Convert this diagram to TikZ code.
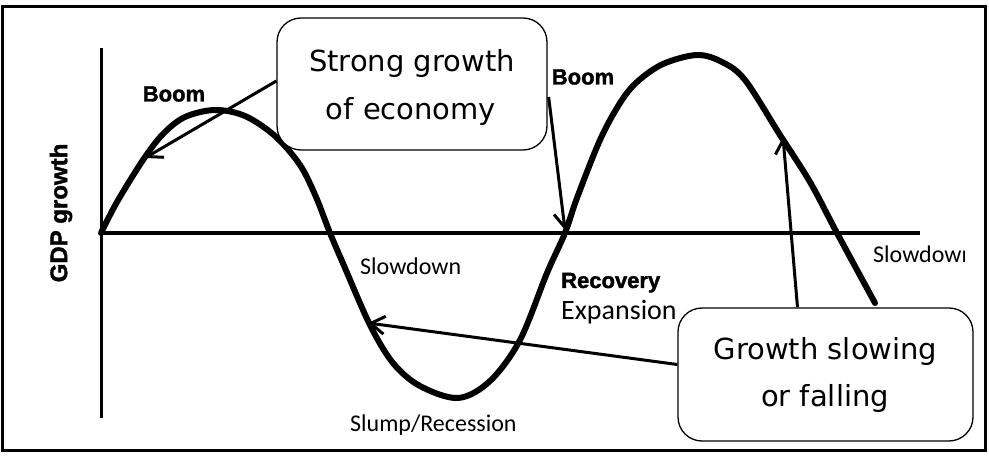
\documentclass[tikz,border=0pt]{standalone}
\usepackage{fontspec}
\setmainfont{Carlito}
\newfontfamily\arialfont[FakeBold=1.6]{Liberation Sans Bold}
\newfontfamily\comicfont{DejaVu Sans}
\usetikzlibrary{arrows.meta,calc}
\begin{document}
\begin{tikzpicture}[x=1pt,y=-1pt,
  outerframe/.style={line width=3pt},
  axisline/.style={line width=3.5pt},
  wave/.style={line width=6pt, line join=round, line cap=round},
  pointer/.style={line width=3pt, -{Straight Barb[length=14pt,width=18pt]}},
  callout/.style={draw, line width=1.3pt, rounded corners=24pt, fill=white, inner sep=0pt},
  calltext/.style={inner sep=0pt, anchor=base, font=\comicfont\fontsize{29}{35}\selectfont},
  boldlbl/.style={inner sep=0pt, font=\arialfont\fontsize{22}{26}\selectfont},
  plainlbl/.style={inner sep=0pt, anchor=base west, font=\fontsize{24}{28}\selectfont}
]
\useasboundingbox (0,0) rectangle (989,462);
\fill[white] (0,0) rectangle (989,462);
\draw[outerframe] (2,7) rectangle (985,451);

% axes
\coordinate (ytop) at (101,48);
\coordinate (ybot) at (101,418);
\coordinate (orig) at (101,233);
\coordinate (xend) at (920,233);
\draw[line width=3pt] (ytop) -- (ybot);
\draw[axisline] (orig) -- (xend);

\node[boldlbl, rotate=90, font=\arialfont\fontsize{24}{28}\selectfont] (gdp) at (61,213) {GDP growth};

% business cycle curve
\draw[wave] plot[smooth, tension=0.55] coordinates {
 (101,233) (117,202) (143,160) (163,134) (185,117) (215,110) (245,116)
 (275,136) (300,165) (316,197) (330,233) (345,268) (370,325) (393,363)
 (420,386) (458,398) (490,381) (520,340) (547,273) (565,233) (577,198)
 (600,140) (620,103) (637,82) (663,64) (697,55) (722,62) (745,80)
 (780,135) (810,182) (837,233) (875,303)};

% labels
\node[boldlbl] (boom1) at (174,94) {Boom};
\node[boldlbl] (boom2) at (583,77) {Boom};
\node[boldlbl, anchor=base west] (recov) at (561,288) {Recovery};
\node[plainlbl, font=\fontsize{28}{32}\selectfont] (expan) at (561,320) {Expansion};
\node[plainlbl] (slow1) at (360,275) {Slowdown};
\node[plainlbl] (slump) at (350,432) {Slump/Recession};
\begin{scope}
\clip (860,240) rectangle (964,272);
\node[plainlbl] (slow2) at (873,263) {Slowdown};
\end{scope}

% arrow targets on the curve
\coordinate (t1) at (145,158);
\coordinate (t2) at (565,230);
\coordinate (t3) at (368,323);
\coordinate (t4) at (783,137);

% callout boxes
\node[callout, minimum width=270pt, minimum height=132pt] (b1) at (412,84) {};
\node[calltext] (s1a) at (412,72) {Strong growth};
\node[calltext] (s1b) at (411,120) {of economy};

\node[callout, minimum width=295pt, minimum height=133pt] (b2) at (825.5,374.5) {};
\node[calltext] (s2a) at (825.5,360) {Growth slowing};
\node[calltext] (s2b) at (825,407) {or falling};

% pointers
\draw[pointer] ($(b1.west)+(0,-3)$) -- (t1);
\draw[pointer] ($(b1.east)+(1,13)$) -- (t2);
\draw[pointer] ($(b2.west)+(0,-10)$) -- (t3);
\draw[pointer] ($(b2.north)+(-28,0)$) -- (t4);
\end{tikzpicture}
\end{document}
